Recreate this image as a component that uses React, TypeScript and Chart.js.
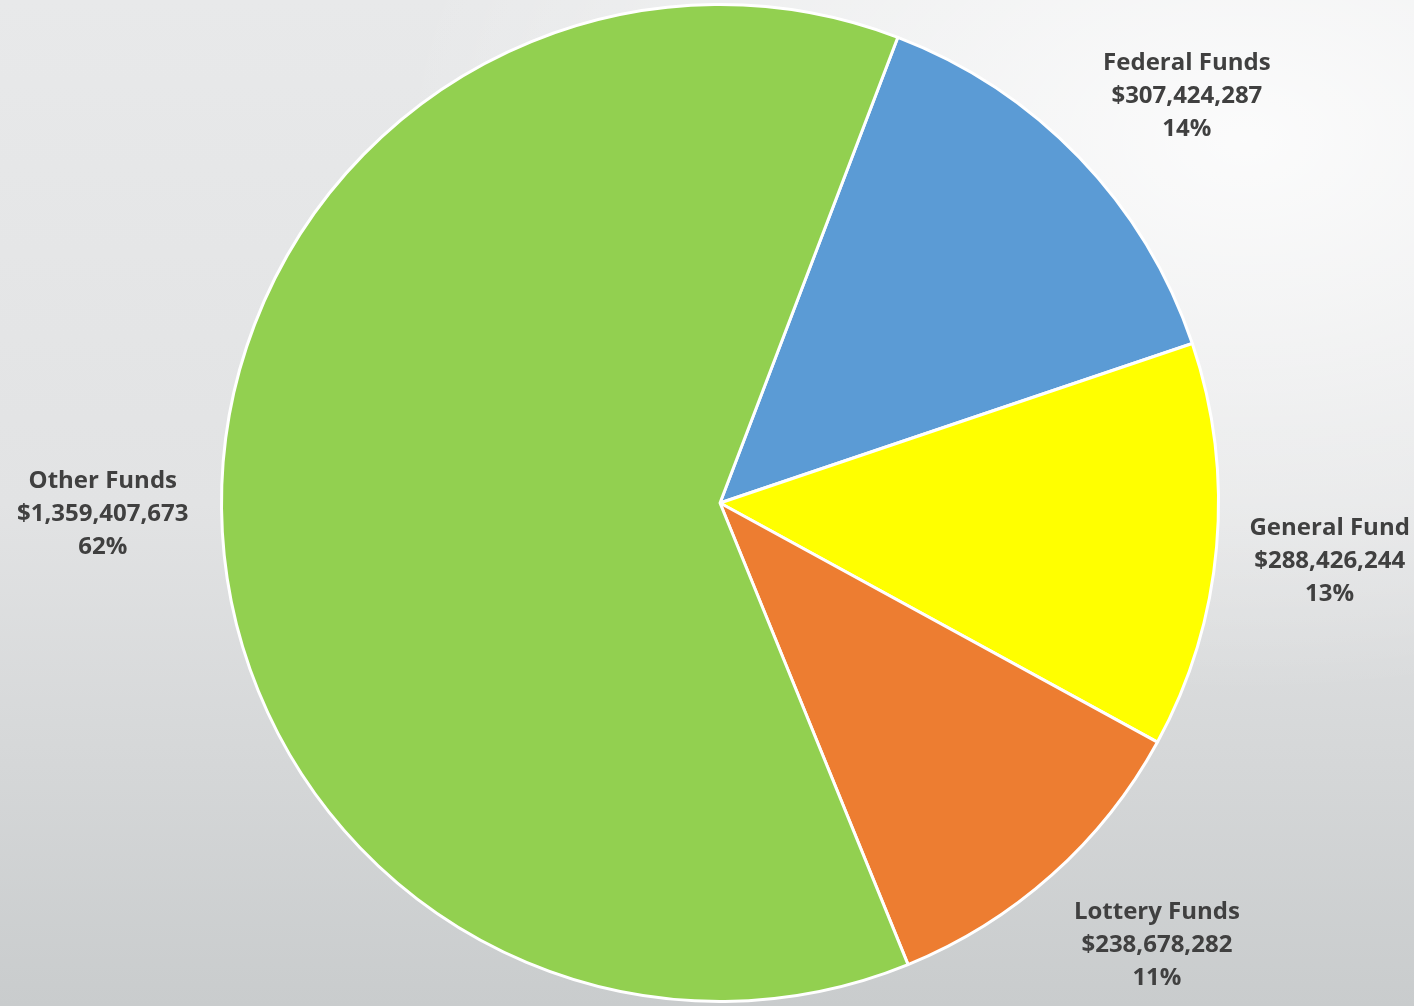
import React, { useEffect, useRef } from "react";
import { Chart, registerables } from "chart.js";

Chart.register(...registerables);

const categories = ["Federal Funds", "General Fund", "Lottery Funds", "Other Funds"];
const values = [307424287, 288426244, 238678282, 1359407673];
const percentLabels = ["14%", "13%", "11%", "62%"];
const colors = ["#5B9BD5", "#FFFF00", "#ED7D31", "#92D050"];

const FONT = "bold 24px 'Open Sans', 'DejaVu Sans', sans-serif";

const labelPlugin = {
  id: "outsideLabels",
  afterDraw(chart: any) {
    const ctx = chart.ctx;
    const meta = chart.getDatasetMeta(0);
    ctx.save();
    ctx.font = FONT;
    ctx.fillStyle = "#404040";
    ctx.textAlign = "center";
    ctx.textBaseline = "middle";
    const lineH = 33;
    meta.data.forEach((arc: any, i: number) => {
      const { x, y, startAngle, endAngle, outerRadius } = arc.getProps(
        ["x", "y", "startAngle", "endAngle", "outerRadius"],
        true
      );
      const mid = (startAngle + endAngle) / 2;
      const ux = Math.cos(mid);
      const uy = Math.sin(mid);
      const lines = [
        categories[i],
        "$" + values[i].toLocaleString("en-US"),
        percentLabels[i],
      ];
      let w = 0;
      lines.forEach((l) => (w = Math.max(w, ctx.measureText(l).width)));
      const hw = w / 2;
      const hh = 42;
      const gap = 33;
      const ax = x + ux * (outerRadius + gap);
      const ay = y + uy * (outerRadius + gap);
      const clamp = (v: number) => Math.max(-1, Math.min(1, v / 0.5));
      const cx = ax + clamp(ux) * hw;
      const cy = ay + clamp(uy) * hh + 4;
      lines.forEach((l, k) => {
        ctx.fillText(l, cx, cy + (k - 1) * lineH);
      });
    });
    ctx.restore();
  },
};

export default function App() {
  const ref = useRef<HTMLCanvasElement>(null);
  useEffect(() => {
    document.body.style.margin = "0";
    if (!ref.current) return;
    const chart = new Chart(ref.current, {
      type: "pie",
      data: {
        labels: categories,
        datasets: [
          {
            data: values,
            backgroundColor: colors,
            borderColor: "#FFFFFF",
            borderWidth: 3,
          },
        ],
      },
      options: {
        animation: false,
        responsive: false,
        maintainAspectRatio: false,
        rotation: 20.9,
        layout: { padding: { left: 26, right: 0, top: 3, bottom: 3 } },
        plugins: {
          legend: { display: false },
          tooltip: { enabled: false },
        },
      },
      plugins: [labelPlugin],
    });
    return () => chart.destroy();
  }, []);
  return (
    <div
      style={{
        width: 1414,
        height: 1006,
        background:
          "radial-gradient(ellipse 60% 55% at 88% 14%, rgba(255,255,255,0.85) 0%, rgba(255,255,255,0) 100%), linear-gradient(to bottom, #e8e9ea 0%, #e2e3e4 50%, #c9cccd 100%)",
      }}
    >
      <canvas ref={ref} width={1414} height={1006} style={{ display: "block" }} />
    </div>
  );
}
